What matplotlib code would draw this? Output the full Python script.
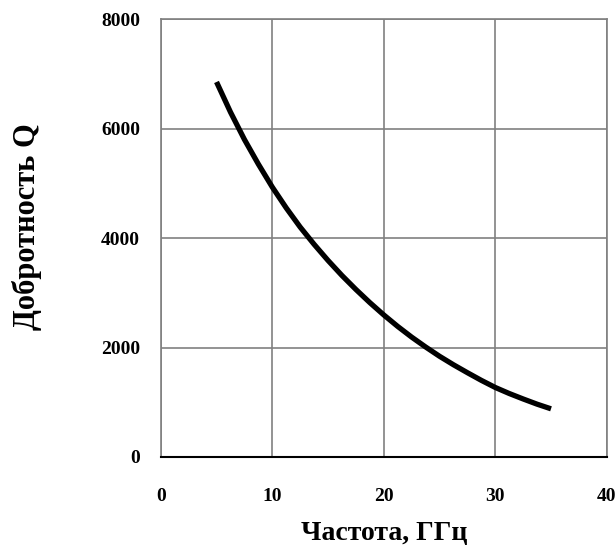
import matplotlib.pyplot as plt

# values
freq = [5, 6.25, 7.5, 8.75, 10, 11.25, 12.5, 13.75, 15, 16.25, 17.5, 18.75, 20,
        21.25, 22.5, 23.75, 25, 26.25, 27.5, 28.75, 30, 31.25, 32.5, 33.75, 35]
q_factor = [6850, 6300, 5800, 5350, 4930, 4550, 4200, 3885, 3590, 3315, 3060, 2820, 2595,
            2385, 2190, 2010, 1840, 1685, 1540, 1400, 1270, 1160, 1060, 965, 880]
x_ticks = [0, 10, 20, 30, 40]
y_ticks = [0, 2000, 4000, 6000, 8000]

plt.rcParams['font.family'] = ['Liberation Serif', 'DejaVu Serif']

fig = plt.figure(figsize=(6.16, 5.51), dpi=100)
ax = fig.add_axes([0.261, 0.1706, 0.724, 0.7949])

ax.plot(freq, q_factor, color='black', linewidth=3.8, solid_capstyle='butt',
        solid_joinstyle='round')

ax.set_xlim(0, 40)
ax.set_ylim(0, 8000)
ax.set_xticks(x_ticks)
ax.set_yticks(y_ticks)
ax.set_xticklabels([str(v) for v in x_ticks], fontweight='bold', fontsize=14)
ax.set_yticklabels([str(v) for v in y_ticks], fontweight='bold', fontsize=14)
ax.tick_params(axis='x', length=0, pad=22)
ax.tick_params(axis='y', length=0, pad=15)

ax.grid(True, color='#808080', linewidth=1.2)
for side in ['top', 'right', 'left']:
    ax.spines[side].set_color('#808080')
    ax.spines[side].set_linewidth(1.2)
ax.spines['bottom'].set_color('black')
ax.spines['bottom'].set_linewidth(1.5)

ax.set_xlabel('Частота, ГГц', fontweight='bold', fontsize=20, labelpad=12)
ax.set_ylabel('Добротность Q', fontweight='bold', fontsize=22)
ax.yaxis.set_label_coords(-0.267, 0.525)

fig.savefig('out.png', dpi=100)
